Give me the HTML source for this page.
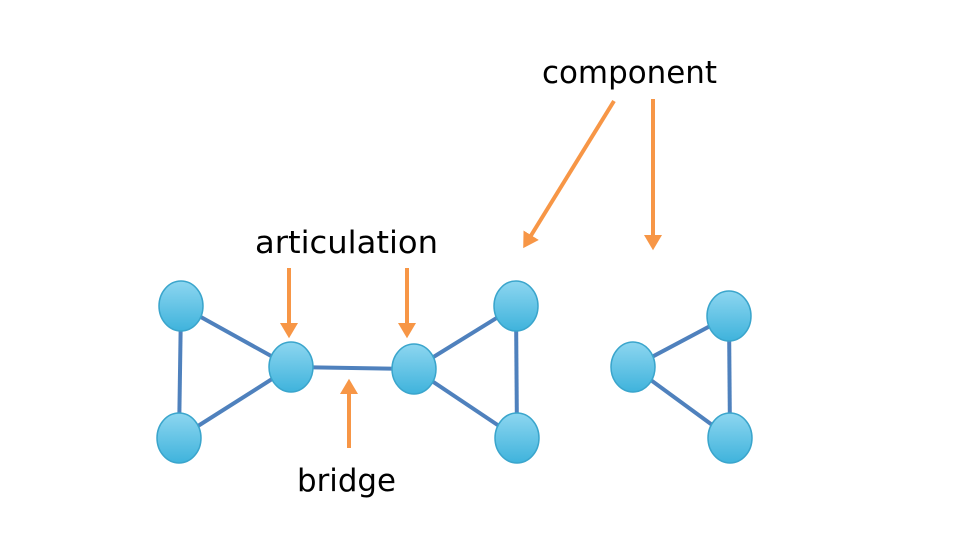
<!DOCTYPE html>
<html><head><style>html,body{margin:0;padding:0;background:#fff;}</style></head>
<body>
<svg width="960" height="540" viewBox="0 0 960 540" xmlns="http://www.w3.org/2000/svg">
<defs>
<linearGradient id="g" x1="0" y1="0" x2="0" y2="1">
<stop offset="0" stop-color="#8dd6f0"/><stop offset="1" stop-color="#3fb3dc"/>
</linearGradient>
<marker id="ah" markerWidth="5" markerHeight="5" refX="2" refY="2.25" orient="auto" markerUnits="strokeWidth">
<path d="M0,0 L3.8,2.25 L0,4.5 z" fill="#f79646"/>
</marker>
</defs>
<g stroke="#4f81bd" stroke-width="4">
<line x1="181" y1="306" x2="179" y2="438"/>
<line x1="181" y1="306" x2="291" y2="367"/>
<line x1="179" y1="438" x2="291" y2="367"/>
<line x1="291" y1="367" x2="414" y2="369"/>
<line x1="414" y1="369" x2="516" y2="306"/>
<line x1="414" y1="369" x2="517" y2="438"/>
<line x1="516" y1="306" x2="517" y2="438"/>
<line x1="633" y1="367" x2="729" y2="316"/>
<line x1="633" y1="367" x2="730" y2="438"/>
<line x1="729" y1="316" x2="730" y2="438"/>
</g>
<g fill="url(#g)" stroke="#3aa5cc" stroke-width="1.5">
<ellipse cx="181" cy="306" rx="22" ry="25"/>
<ellipse cx="179" cy="438" rx="22" ry="25"/>
<ellipse cx="291" cy="367" rx="22" ry="25"/>
<ellipse cx="414" cy="369" rx="22" ry="25"/>
<ellipse cx="516" cy="306" rx="22" ry="25"/>
<ellipse cx="517" cy="438" rx="22" ry="25"/>
<ellipse cx="633" cy="367" rx="22" ry="25"/>
<ellipse cx="729" cy="316" rx="22" ry="25"/>
<ellipse cx="730" cy="438" rx="22" ry="25"/>
</g>
<g stroke="#f79646" stroke-width="4" marker-end="url(#ah)">
<line x1="289" y1="268" x2="289" y2="331"/>
<line x1="407" y1="268" x2="407" y2="331"/>
<line x1="349" y1="448" x2="349" y2="386"/>
<line x1="614" y1="101" x2="527" y2="242"/>
<line x1="653" y1="99" x2="653" y2="243"/>
</g>
<g font-family="'DejaVu Sans', 'Liberation Sans', sans-serif" font-size="31" fill="#000">
<text x="542" y="83" textLength="175" lengthAdjust="spacingAndGlyphs">component</text>
<text x="255" y="253" textLength="183" lengthAdjust="spacingAndGlyphs">articulation</text>
<text x="297" y="491" textLength="99" lengthAdjust="spacingAndGlyphs">bridge</text>
</g>
</svg>
</body></html>
